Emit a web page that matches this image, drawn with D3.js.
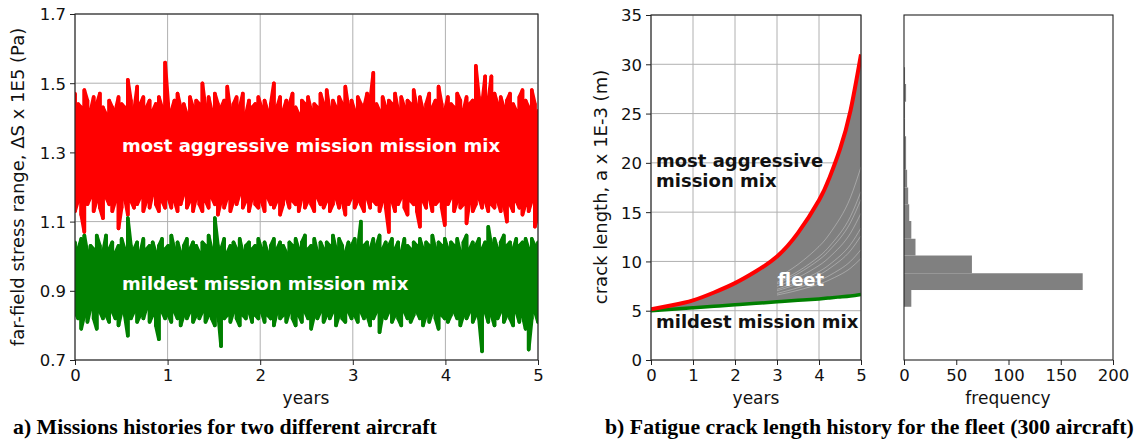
<!DOCTYPE html>
<html><head><meta charset="utf-8">
<script src="https://cdn.jsdelivr.net/npm/d3@7"></script>
<style>
html,body{margin:0;padding:0;background:#fff;}
svg{display:block;}
</style></head><body>
<svg id="c" width="1137" height="443"></svg>
<script>
// ---------- data ----------
const yearTicks = [0,1,2,3,4,5];
const stressTicks = [0.7,0.9,1.1,1.3,1.5,1.7];
const crackTicks = [0,5,10,15,20,25,30,35];
const freqTicks = [0,50,100,150,200];

// stress range envelopes per time step (150 steps over 5 years)
const redHi = [1.47,1.44,1.43,1.48,1.45,1.42,1.46,1.44,1.47,1.43,
1.41,1.45,1.43,1.42,1.46,1.44,1.43,1.51,1.45,1.42,
1.49,1.44,1.46,1.43,1.45,1.42,1.44,1.46,1.43,1.56,
1.44,1.42,1.45,1.47,1.43,1.44,1.41,1.46,1.43,1.45,
1.44,1.50,1.43,1.46,1.42,1.47,1.44,1.43,1.45,1.49,
1.42,1.44,1.46,1.43,1.47,1.41,1.45,1.43,1.44,1.46,
1.43,1.45,1.42,1.44,1.50,1.43,1.46,1.42,1.45,1.44,
1.47,1.43,1.41,1.45,1.44,1.46,1.42,1.44,1.43,1.47,
1.44,1.48,1.42,1.45,1.43,1.46,1.44,1.49,1.43,1.45,
1.42,1.46,1.44,1.43,1.47,1.45,1.53,1.44,1.42,1.46,
1.43,1.45,1.44,1.47,1.42,1.46,1.43,1.45,1.44,1.48,
1.43,1.46,1.42,1.44,1.47,1.43,1.45,1.49,1.44,1.42,
1.46,1.44,1.43,1.47,1.45,1.42,1.46,1.44,1.45,1.55,
1.46,1.44,1.52,1.45,1.52,1.47,1.44,1.46,1.43,1.45,
1.47,1.44,1.42,1.46,1.48,1.45,1.43,1.48,1.44,1.42];
const redLo = [1.13,1.16,1.12,1.07,1.15,1.17,1.13,1.16,1.14,1.11,
1.17,1.15,1.13,1.16,1.08,1.14,1.17,1.12,1.16,1.14,
1.15,1.17,1.13,1.16,1.14,1.18,1.15,1.13,1.16,1.14,
1.17,1.14,1.16,1.13,1.15,1.18,1.14,1.16,1.13,1.17,
1.15,1.13,1.16,1.14,1.17,1.15,1.12,1.16,1.14,1.17,
1.13,1.16,1.15,1.18,1.14,1.16,1.13,1.17,1.15,1.14,
1.16,1.13,1.17,1.15,1.14,1.16,1.12,1.15,1.17,1.14,
1.16,1.15,1.13,1.17,1.14,1.16,1.15,1.13,1.17,1.15,
1.14,1.16,1.13,1.15,1.17,1.14,1.16,1.12,1.15,1.17,
1.14,1.16,1.15,1.13,1.17,1.14,1.16,1.15,1.13,1.16,
1.14,1.07,1.16,1.13,1.15,1.17,1.14,1.12,1.16,1.15,
1.13,1.085,1.16,1.14,1.17,1.13,1.15,1.16,1.14,1.09,
1.15,1.17,1.13,1.16,1.14,1.15,1.095,1.16,1.13,1.15,
1.17,1.14,1.16,1.13,1.15,1.14,1.16,1.13,1.15,1.10,
1.15,1.13,1.16,1.14,1.12,1.15,1.13,1.16,1.085,1.12];
const greenHi = [1.04,1.02,1.05,1.06,1.01,1.03,1.02,1.06,1.03,1.01,
1.06,1.02,1.04,1.01,1.03,1.05,1.02,1.11,1.03,1.02,
1.04,1.01,1.05,1.02,1.03,1.04,1.01,1.03,1.05,1.02,
1.03,1.06,1.02,1.04,1.01,1.03,1.05,1.02,1.04,1.03,
1.01,1.04,1.03,1.06,1.02,1.11,1.03,1.02,1.05,1.01,
1.03,1.04,1.02,1.05,1.01,1.03,1.04,1.02,1.03,1.05,
1.02,1.04,1.01,1.03,1.05,1.02,1.04,1.03,1.01,1.04,
1.03,1.05,1.02,1.04,1.06,1.02,1.03,1.05,1.01,1.04,
1.02,1.04,1.03,1.06,1.02,1.05,1.03,1.01,1.04,1.03,
1.05,1.02,1.10,1.03,1.04,1.02,1.05,1.03,1.06,1.02,
1.04,1.03,1.05,1.02,1.04,1.01,1.05,1.03,1.02,1.04,
1.03,1.05,1.02,1.04,1.03,1.06,1.02,1.04,1.03,1.05,
1.02,1.04,1.03,1.05,1.01,1.04,1.06,1.02,1.04,1.03,
1.05,1.02,1.04,1.085,1.03,1.05,1.02,1.04,1.06,1.03,
1.04,1.02,1.05,1.03,1.04,1.05,1.02,1.05,1.03,1.04];
const greenLo = [0.84,0.82,0.79,0.83,0.81,0.85,0.82,0.79,0.84,0.82,
0.83,0.81,0.84,0.82,0.80,0.84,0.83,0.77,0.82,0.84,
0.81,0.83,0.82,0.85,0.81,0.83,0.80,0.76,0.84,0.82,
0.83,0.81,0.84,0.82,0.80,0.83,0.82,0.84,0.81,0.83,
0.82,0.84,0.81,0.83,0.82,0.80,0.84,0.74,0.82,0.83,
0.81,0.84,0.82,0.80,0.83,0.82,0.84,0.81,0.83,0.82,
0.84,0.81,0.83,0.82,0.80,0.84,0.82,0.83,0.81,0.84,
0.82,0.80,0.83,0.81,0.84,0.82,0.79,0.83,0.82,0.84,
0.81,0.83,0.82,0.84,0.80,0.83,0.82,0.81,0.84,0.82,
0.83,0.81,0.84,0.82,0.83,0.80,0.82,0.84,0.78,0.83,
0.82,0.84,0.81,0.83,0.82,0.80,0.84,0.82,0.81,0.83,
0.84,0.82,0.80,0.83,0.81,0.84,0.82,0.79,0.83,0.82,
0.81,0.83,0.84,0.82,0.80,0.83,0.82,0.84,0.81,0.83,
0.82,0.725,0.84,0.81,0.83,0.80,0.82,0.84,0.81,0.83,
0.82,0.80,0.84,0.81,0.83,0.79,0.73,0.82,0.84,0.81];

// crack growth curves
const crackYears = [0,0.5,1,1.5,2,2.5,3,3.5,4,4.25,4.5,4.75,5];
const redCrack   = [5.15,5.55,6.05,6.85,7.8,9.0,10.5,12.9,16.2,18.5,21.4,25.3,31.0];
const greenCrack = [5.0,5.15,5.3,5.45,5.6,5.75,5.9,6.05,6.2,6.3,6.4,6.5,6.65];
// final crack lengths of sparser fleet members (visible as light streaks)
const streakFinals = [10.3,11.2,12.6,13.4,14.9,16.3,17.1,19.6];

// histogram of final crack length (bin edges, counts bottom->top)
const binEdges = [5.4,7.1,8.8,10.6,12.3,14.1,15.8,17.5,19.3,21.0,22.7,24.5,26.2,28.0,29.7];
const binCounts = [7,171,65,11,7,5,4,3,2,2,1,1,2,1];

// ---------- drawing ----------
const svg = d3.select("#c");
svg.append("rect").attr("width",1137).attr("height",443).attr("fill","#fff");
const TICK_FS = 16.5, LAB_FS = 17, YLAB_FS = 18;
const SANS = "'DejaVu Sans', sans-serif";
const SERIF = "'Liberation Serif', 'Times New Roman', serif";
const spineCol = "#222", gridCol = "#b0b0b0";
const CURVE = d3.curveNatural;

function grid(g, x, y, xt, yt){
  const [x0,x1] = x.range(), [y0,y1] = y.range();
  g.append("g").selectAll("line").data(xt).join("line")
    .attr("x1",d=>x(d)).attr("x2",d=>x(d)).attr("y1",y0).attr("y2",y1)
    .attr("stroke",gridCol).attr("stroke-width",1);
  g.append("g").selectAll("line").data(yt).join("line")
    .attr("y1",d=>y(d)).attr("y2",d=>y(d)).attr("x1",x0).attr("x2",x1)
    .attr("stroke",gridCol).attr("stroke-width",1);
}
function frame(g, x, y, xt, yt, yfmt){
  const [x0,x1] = x.range(), [y0,y1] = y.range();
  const xa = g.append("g").attr("transform",`translate(0,${y0})`)
    .call(d3.axisBottom(x).tickValues(xt).tickSize(5).tickPadding(4).tickFormat(d3.format("d")));
  xa.select(".domain").remove();
  xa.selectAll("text").attr("font-size",TICK_FS).attr("fill","#111").style("font-family",SANS);
  xa.selectAll("line").attr("stroke",spineCol);
  if (yt){
    const ya = g.append("g").attr("transform",`translate(${x0},0)`)
      .call(d3.axisLeft(y).tickValues(yt).tickSize(5).tickPadding(4).tickFormat(yfmt));
    ya.select(".domain").remove();
    ya.selectAll("text").attr("font-size",TICK_FS).attr("fill","#111").style("font-family",SANS).attr("dy","0.36em");
    ya.selectAll("line").attr("stroke",spineCol);
  }
  g.append("rect").attr("x",x0).attr("y",y1).attr("width",x1-x0).attr("height",y0-y1)
    .attr("fill","none").attr("stroke",spineCol).attr("stroke-width",1.1);
}
function clip(id, x, y){
  const [x0,x1] = x.range(), [y0,y1] = y.range();
  svg.append("clipPath").attr("id",id).append("rect")
    .attr("x",x0).attr("y",y1).attr("width",x1-x0).attr("height",y0-y1);
  return `url(#${id})`;
}
function label(g, txt, opts){
  const t = g.append("text").style("font-family",opts.serif?SERIF:SANS)
    .attr("font-size",opts.fs).attr("fill",opts.fill||"#111").text(txt);
  if (opts.bold) t.attr("font-weight","bold");
  if (opts.anchor) t.attr("text-anchor",opts.anchor);
  if (opts.transform) t.attr("transform",opts.transform); else t.attr("x",opts.x).attr("y",opts.y);
  return t;
}

// ---- panel a ----
const xa = d3.scaleLinear().domain([0,5]).range([75,538]);
const ya = d3.scaleLinear().domain([0.7,1.7]).range([360,14]);
const ga = svg.append("g");
grid(ga, xa, ya, yearTicks, stressTicks);
const ca = clip("clipA", xa, ya);
function band(hi, lo, color){
  const n = hi.length;
  const t = i => i*5/(n-1);
  ga.append("g").attr("clip-path",ca).selectAll("line").data(d3.range(n)).join("line")
    .attr("x1",i=>xa(t(i))).attr("x2",i=>xa(t(i)))
    .attr("y1",i=>ya(hi[i])).attr("y2",i=>ya(lo[i]))
    .attr("stroke",color).attr("stroke-width",3.6).attr("stroke-linecap","round");
  const pts = [];
  d3.range(n).forEach(i=>{ pts.push([t(i), i%2?lo[i]:hi[i]]); pts.push([t(i), i%2?hi[i]:lo[i]]); });
  ga.append("path").attr("clip-path",ca).attr("d",d3.line().x(d=>xa(d[0])).y(d=>ya(d[1]))(pts))
    .attr("fill","none").attr("stroke",color).attr("stroke-width",3.6).attr("stroke-linejoin","round");
}
band(redHi, redLo, "#ff0000");
band(greenHi, greenLo, "#008000");
frame(ga, xa, ya, yearTicks, stressTicks, d3.format(".1f"));
label(ga,"most aggressive mission mission mix",{x:122,y:151.5,fs:18,bold:true,fill:"#fff"});
label(ga,"mildest mission mission mix",{x:122,y:290,fs:18,bold:true,fill:"#fff"});
label(ga,"far-field stress range, ΔS x 1E5 (Pa)",{transform:"translate(24,187) rotate(-90)",anchor:"middle",fs:YLAB_FS});
label(ga,"years",{x:306,y:404,anchor:"middle",fs:LAB_FS});

// ---- panel b (crack) ----
const xb = d3.scaleLinear().domain([0,5]).range([651,861]);
const yb = d3.scaleLinear().domain([0,35]).range([360,15]);
const gb = svg.append("g");
grid(gb, xb, yb, yearTicks, crackTicks);
const cb = clip("clipB", xb, yb);
const crackPts = crackYears.map((t,i)=>({t, r:redCrack[i], g:greenCrack[i]}));
gb.append("path").attr("clip-path",cb)
  .attr("d", d3.area().curve(CURVE).x(d=>xb(d.t)).y0(d=>yb(d.g)).y1(d=>yb(d.r))(crackPts))
  .attr("fill","#808080");
const gEnd = greenCrack[greenCrack.length-1], rEnd = redCrack[redCrack.length-1];
streakFinals.forEach(f=>{
  const w = (f-gEnd)/(rEnd-gEnd);
  const pts = crackPts.filter(d=>d.t>=3).map(d=>({t:d.t, v:d.g + w*(d.r-d.g)}));
  gb.append("path").attr("clip-path",cb)
    .attr("d", d3.line().curve(CURVE).x(d=>xb(d.t)).y(d=>yb(d.v))(pts))
    .attr("fill","none").attr("stroke","#fff").attr("stroke-opacity",0.5).attr("stroke-width",0.6);
});
gb.append("path").attr("clip-path",cb)
  .attr("d", d3.line().curve(CURVE).x(d=>xb(d.t)).y(d=>yb(d.g))(crackPts))
  .attr("fill","none").attr("stroke","#008000").attr("stroke-width",3.5);
gb.append("path").attr("clip-path",cb)
  .attr("d", d3.line().curve(CURVE).x(d=>xb(d.t)).y(d=>yb(d.r))(crackPts))
  .attr("fill","none").attr("stroke","#ff0000").attr("stroke-width",4);
frame(gb, xb, yb, yearTicks, crackTicks, d3.format("d"));
label(gb,"most aggressive",{x:656,y:166.5,fs:18,bold:true});
label(gb,"mission mix",{x:656,y:187,fs:18,bold:true});
label(gb,"mildest mission mix",{x:656,y:328,fs:18,bold:true});
label(gb,"fleet",{x:801,y:286,anchor:"middle",fs:18,bold:true,fill:"#fff"});
label(gb,"crack length, a x 1E-3 (m)",{transform:"translate(607,187) rotate(-90)",anchor:"middle",fs:YLAB_FS});
label(gb,"years",{x:756,y:404,anchor:"middle",fs:LAB_FS});

// ---- histogram ----
const xh = d3.scaleLinear().domain([0,200]).range([904,1113]);
const gh = svg.append("g");
gh.append("g").selectAll("rect").data(binCounts).join("rect")
  .attr("x",xh(0)).attr("width",d=>xh(d)-xh(0))
  .attr("y",(d,i)=>yb(binEdges[i+1])).attr("height",(d,i)=>yb(binEdges[i])-yb(binEdges[i+1]))
  .attr("fill","#808080");
frame(gh, xh, yb, freqTicks, null, null);
label(gh,"frequency",{x:1008,y:404,anchor:"middle",fs:LAB_FS});

// ---- captions ----
label(svg,"a) Missions histories for two different aircraft",{x:13,y:434,fs:21.8,bold:true,serif:true,fill:"#000"});
label(svg,"b) Fatigue crack length history for the fleet (300 aircraft)",{x:605,y:434,fs:21.8,bold:true,serif:true,fill:"#000"});
</script>
</body></html>
